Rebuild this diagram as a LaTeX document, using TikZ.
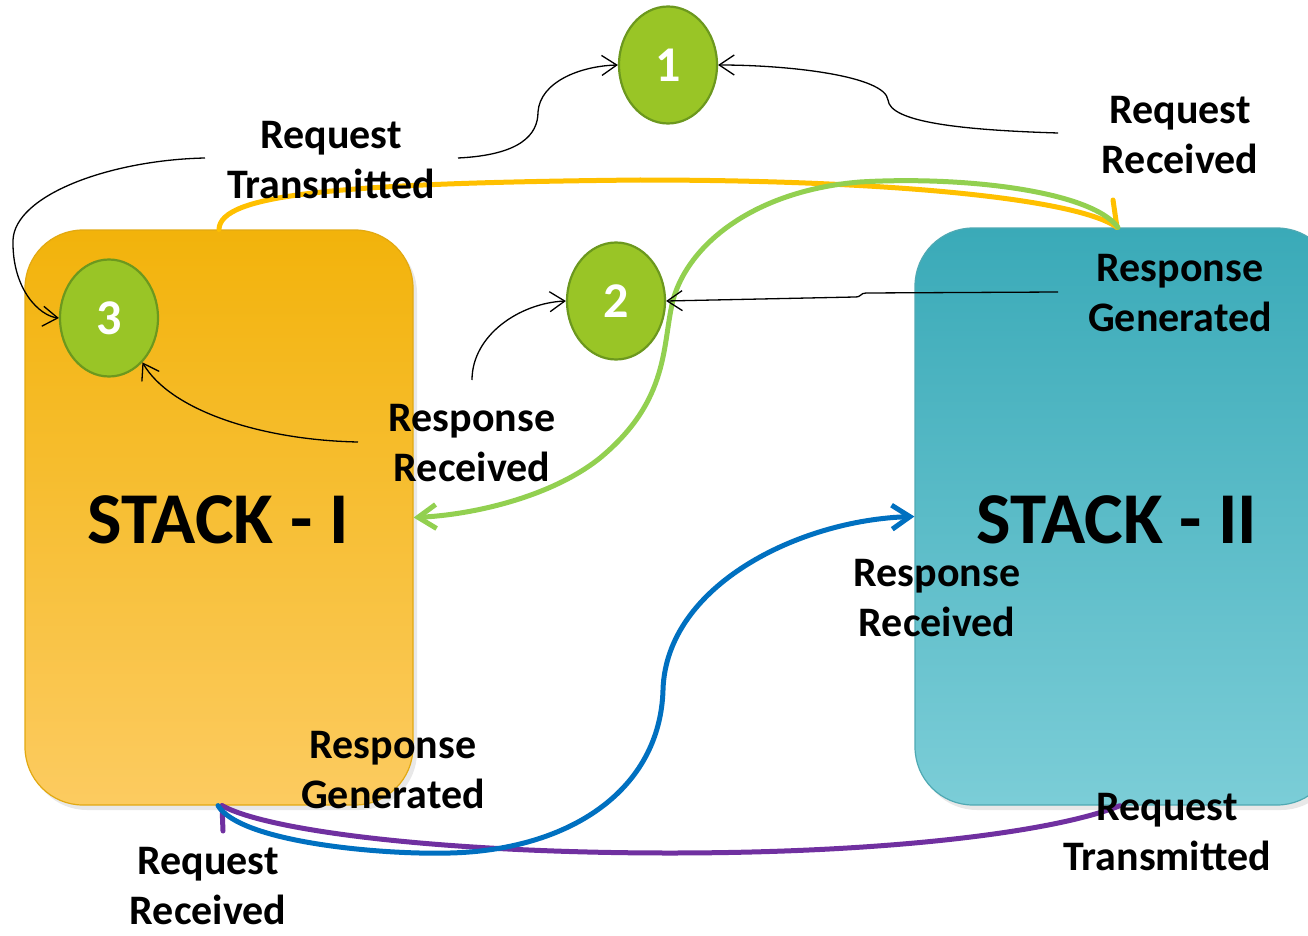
\documentclass[tikz,border=0pt]{standalone}
\usepackage{fontspec}
\setmainfont{Carlito}
\usetikzlibrary{arrows.meta,shapes.geometric,shadows,calc}

\definecolor{stackAtop}{HTML}{F2B30B}
\definecolor{stackAbot}{HTML}{FCCB60}
\definecolor{stackAedge}{HTML}{E2A912}
\definecolor{stackBtop}{HTML}{3AAAB8}
\definecolor{stackBbot}{HTML}{7BCDD7}
\definecolor{stackBedge}{HTML}{4FA9B3}
\definecolor{stagefill}{HTML}{99C526}
\definecolor{stageedge}{HTML}{6C981E}
\definecolor{flowyellow}{HTML}{FFC000}
\definecolor{flowgreen}{HTML}{92D050}
\definecolor{flowblue}{HTML}{0070C0}
\definecolor{flowpurple}{HTML}{7030A0}

\begin{document}
\begin{tikzpicture}[x=1pt,y=-1pt,
  stackbox/.style={rectangle, rounded corners=58pt, line width=1.2pt,
    drop shadow={opacity=0.18, shadow xshift=4pt, shadow yshift=-5pt}},
  stage/.style={ellipse, fill=stagefill, draw=stageedge, line width=2.2pt,
    minimum width=98pt, minimum height=117pt, inner sep=0pt,
    text=white, font=\bfseries\fontsize{50}{56}\selectfont},
  lbl/.style={align=center, inner sep=0pt, font=\bfseries\fontsize{42}{50}\selectfont},
  stacklbl/.style={inner sep=0pt, font=\bfseries\fontsize{73}{80}\selectfont},
  note/.style={draw=black, line width=1.3pt, -{Straight Barb[length=15pt,width=20pt]}},
  flow/.style={line width=5pt, line cap=round},
  flowtip/.style={-{Straight Barb[length=18pt,width=24pt]}}
]
\useasboundingbox (0,0) rectangle (1308,936);

% the two protocol stacks
\node[stackbox, top color=stackAtop, bottom color=stackAbot, draw=stackAedge,
      minimum width=388pt, minimum height=575pt] (s1) at (219,517.5) {};
\node[stackbox, top color=stackBtop, bottom color=stackBbot, draw=stackBedge,
      minimum width=420pt, minimum height=577pt] (s2) at (1125,516.5) {};

% numbered stages
\node[stage] (c1) at (668,65) {1};
\node[stage] (c2) at (616,301) {2};
\node[stage] (c3) at (109,318) {3};

% free ends of the connectors
\coordinate (yStub) at (1113,200);
\coordinate (pStub) at (223,831);
\coordinate (aStart) at (458,158);
\coordinate (bStart) at (1058,133);
\coordinate (cStart) at (1058,292);
\coordinate (dStart) at (472,380);
\coordinate (eStart) at (358,442);
\coordinate (fStart) at (205,158);

% request from stack I to stack II (yellow)
\draw[flow, flowyellow] (s1.north) .. controls (220,195) and (330,183) .. (640,180)
   .. controls (900,180) and (1080,200) .. ([xshift=-8pt]s2.north);
\draw[flow, flowyellow] ([xshift=-8pt]s2.north) -- (yStub);

% response from stack II back to stack I (green)
\draw[flow, flowgreen, flowtip] ([xshift=-7pt]s2.north)
   .. controls (1090,190) and (960,176) .. (860,182)
   .. controls (760,190) and (690,240) .. (673,300)
   .. controls (662,345) and (670,400) .. (600,458)
   .. controls (550,498) and (470,515) .. (s1.east);

% request from stack II to stack I (purple)
\draw[flow, flowpurple] ([xshift=-5pt]s2.south)
   .. controls (1060,830) and (900,853) .. (670,853)
   .. controls (450,853) and (270,832) .. ([xshift=3pt]s1.south);
\draw[flow, flowpurple] ([xshift=3pt]s1.south) -- (pStub);

% response from stack I back to stack II (blue)
\draw[flow, flowblue, flowtip] ([xshift=-1pt]s1.south)
   .. controls (240,842) and (380,855) .. (450,853)
   .. controls (570,850) and (660,790) .. (663,690)
   .. controls (666,585) and (800,520) .. (s2.west);

% event pointers to the stages
\draw[note] (aStart) .. controls (520,155) and (538,135) .. (538,112)
   .. controls (540,82) and (580,66) .. (c1.west);
\draw[note] (bStart) .. controls (960,130) and (890,122) .. (888,100)
   .. controls (885,76) and (790,65) .. (c1.east);
\draw[note] (cStart) -- (866,293) .. controls (860,293) and (862,297) .. (855,297) -- (c2.east);
\draw[note] (dStart) .. controls (472,335) and (520,303) .. (c2.west);
\draw[note] (eStart) .. controls (260,440) and (170,410) .. (c3.-53);
\draw[note] (fStart) .. controls (110,160) and (15,195) .. (13,240)
   .. controls (12,290) and (40,316) .. (c3.west);

% stack titles
\node[stacklbl] (t1) at (218,520) {STACK - I};
\node[stacklbl] (t2) at (1117,520) {STACK - II};

% event labels
\node[lbl] (l1) at (331,160) {Request\\Transmitted};
\node[lbl] (l2) at (1180,135) {Request\\Received};
\node[lbl] (l3) at (1180,293) {Response\\Generated};
\node[lbl] (l4) at (472,443) {Response\\Received};
\node[lbl] (l5) at (937,598) {Response\\Received};
\node[lbl] (l6) at (393,770) {Response\\Generated};
\node[lbl] (l7) at (208,886) {Request\\Received};
\node[lbl] (l8) at (1167,832) {Request\\Transmitted};
\end{tikzpicture}
\end{document}
